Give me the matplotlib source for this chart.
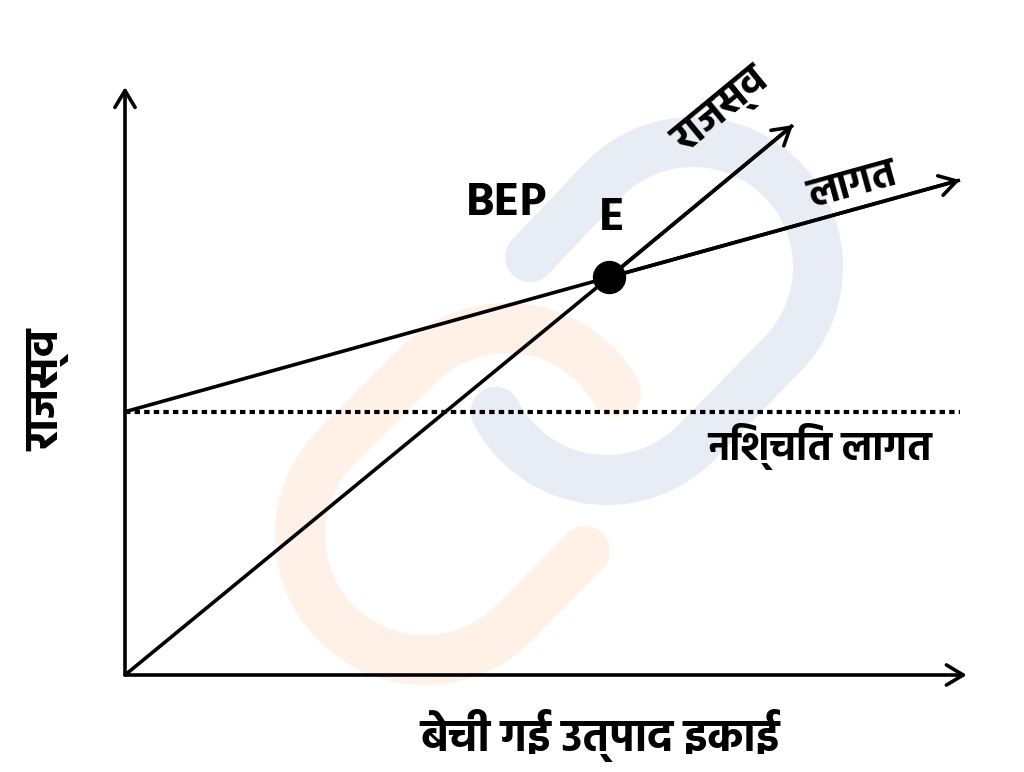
import matplotlib
matplotlib.use("Agg")
import matplotlib.pyplot as plt
import numpy as np

plt.rcParams['font.family'] = ['Hind', 'DejaVu Sans']
plt.rcParams['font.weight'] = 'bold'

# ---- data (units sold vs. amount) ----
units_revenue = [0, 58, 80]
revenue = [0, 68, 94]
units_cost = [0, 58, 100]
cost = [45, 68, 84.6]
fixed_cost = 45
fixed_cost_units = [0, 100]
bep_units = 58
bep_value = 68
x_axis_end = 100.8
y_axis_end = 100.5

label_revenue = "राजस्व"
label_cost = "लागत"
label_fixed = "निश्चित लागत"
label_bep = "BEP"
label_e = "E"
xlabel = "बेची गई उत्पाद इकाई"
ylabel = "राजस्व"

# ---- decorative watermark (link icon), pixel space from top-left ----
wm_radius = 125
wm_blue_centers = [(693, 267), (607, 355)]      # upper-right end, lower-left end
wm_orange_centers = [(507, 453), (425, 535)]
wm_blue_color = '#e8ecf5'
wm_orange_color = '#fff1e7'


def arc_pts(c, a0, a1, r=wm_radius, n=60):
    t = np.radians(np.linspace(a0, a1, n))
    return c[0] + r * np.cos(t), c[1] - r * np.sin(t)


W, H = 1024, 772
fig = plt.figure(figsize=(W / 100, H / 100), dpi=100)

bg = fig.add_axes([0, 0, 1, 1])
bg.set_xlim(0, W)
bg.set_ylim(H, 0)
bg.axis('off')

# blue link: cap -> straight -> upper arc -> straight -> lower arc -> cap
bx1, by1 = arc_pts(wm_blue_centers[0], 135, -45)
bx2, by2 = arc_pts(wm_blue_centers[1], -45, -153)
bx = np.concatenate([[530], bx1, bx2])
by = np.concatenate([[257], by1, by2])
bg.plot(bx, by, color=wm_blue_color, lw=36, solid_capstyle='round',
        solid_joinstyle='round', zorder=0)

# orange link
ox1, oy1 = arc_pts(wm_orange_centers[0], 29, 135)
ox2, oy2 = arc_pts(wm_orange_centers[1], 135, 315)
ox = np.concatenate([ox1, ox2, [585]])
oy = np.concatenate([oy1, oy2, [551]])
bg.plot(ox, oy, color=wm_orange_color, lw=36, solid_capstyle='round',
        solid_joinstyle='round', zorder=0)

# ---- main axes ----
left, bottom, width, height = 125, 97, 835, 585
ax = fig.add_axes([left / W, bottom / H, width / W, height / H])
ax.set_xlim(0, 100)
ax.set_ylim(0, 100)
ax.axis('off')
ax.patch.set_alpha(0)

lw = 2.6
arrow = dict(arrowstyle='->,head_length=0.55,head_width=0.33', lw=lw, color='black',
             shrinkA=0, shrinkB=0, mutation_scale=22)

ax.annotate('', xy=(0, y_axis_end), xytext=(0, 0), arrowprops=arrow, annotation_clip=False)
ax.annotate('', xy=(x_axis_end, 0), xytext=(0, 0), arrowprops=arrow, annotation_clip=False)

ax.plot(fixed_cost_units, [fixed_cost, fixed_cost], color='black', lw=3,
        linestyle=(0, (1.3, 1.0)), dash_capstyle='butt', clip_on=False)

ax.plot(units_revenue, revenue, color='black', lw=lw, clip_on=False, solid_capstyle='butt')
ax.annotate('', xy=(units_revenue[-1], revenue[-1]), xytext=(units_revenue[-2], revenue[-2]),
            arrowprops=arrow, annotation_clip=False)
ax.plot(units_cost, cost, color='black', lw=lw, clip_on=False, solid_capstyle='butt')
ax.annotate('', xy=(units_cost[-1], cost[-1]), xytext=(units_cost[-2], cost[-2]),
            arrowprops=arrow, annotation_clip=False)

ax.plot([bep_units], [bep_value], 'o', color='black', ms=23, zorder=5, clip_on=False)

ax.text(45.7, 80.6, label_bep, fontsize=34, ha='center', va='center', fontweight='bold')
ax.text(58.3, 78.2, label_e, fontsize=34, ha='center', va='center', fontweight='bold')
ax.text(71.6, 96.2, label_revenue, fontsize=30, ha='center', va='center', rotation=39.5,
        rotation_mode='anchor', fontweight='bold')
ax.text(87.2, 83.6, label_cost, fontsize=29, ha='center', va='center', rotation=15.5,
        rotation_mode='anchor', fontweight='bold')
ax.text(83.2, 39.0, label_fixed, fontsize=29, ha='center', va='center', fontweight='bold')

fig.text(600 / W, 1 - 735 / H, xlabel, fontsize=32, ha='center', va='center', fontweight='bold')
fig.text(49 / W, 1 - 390 / H, ylabel, fontsize=33, ha='center', va='center', rotation=90,
         fontweight='bold')

fig.savefig("out.png", dpi=100)
